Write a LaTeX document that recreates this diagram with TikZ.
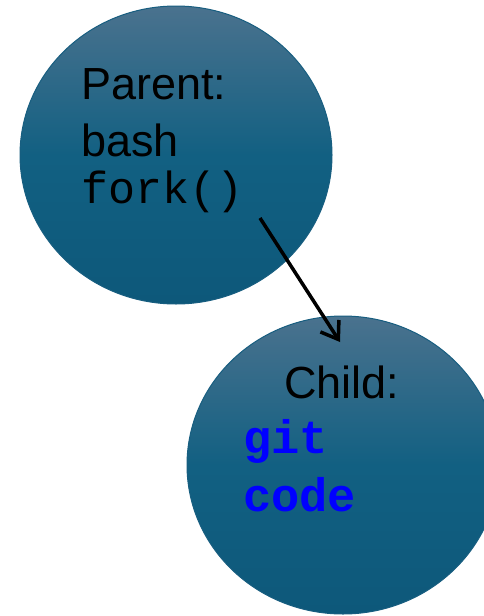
\documentclass[tikz,border=0pt]{standalone}
\usepackage{fontspec}
\setmainfont{Liberation Sans}
\setmonofont{Liberation Mono}
\usetikzlibrary{shapes.geometric,arrows.meta}
\definecolor{topc}{RGB}{74,114,142}
\definecolor{midc}{RGB}{18,96,130}
\definecolor{botc}{RGB}{13,88,122}
\definecolor{edgec}{RGB}{24,94,128}
\definecolor{codeblue}{RGB}{0,0,255}
\tikzset{
  proc/.style={ellipse, draw=edgec, line width=1pt, minimum width=312pt, minimum height=298pt,
    top color=topc, bottom color=botc, middle color=midc, inner sep=0pt},
  label/.style={anchor=base west, inner sep=0pt, font=\fontsize{45}{50}\selectfont},
  mono/.style={anchor=base west, inner sep=0pt, font=\fontsize{45}{50}\selectfont\ttfamily},
  codetext/.style={anchor=base west, inner sep=0pt, text=codeblue, font=\fontsize{47}{50}\selectfont\ttfamily\bfseries},
  forkarrow/.style={line width=3.5pt, -{Straight Barb[length=16pt,width=22pt,line width=3.5pt]}}
}
\begin{document}
\begin{tikzpicture}[x=1pt,y=-1pt]
\useasboundingbox (0,0) rectangle (484,616);
\clip (0,0) rectangle (484,616);
\node[proc] (parent) at (176,155) {};
\node[proc] (child) at (343,465) {};
\node[label] (ptitle) at (81,99) {Parent:};
\node[label] (pbash) at (81,156) {bash};
\node[mono] (pfork) at (81,203) {fork()};
\node[label] (ctitle) at (284,398) {Child:};
\node[codetext] (cgit) at (243,453) {git};
\node[codetext] (ccode) at (243,511) {code};
\coordinate (astart) at (260,218);
\coordinate (aend) at (340,342);
\draw[forkarrow] (astart) -- (aend);
\end{tikzpicture}
\end{document}
